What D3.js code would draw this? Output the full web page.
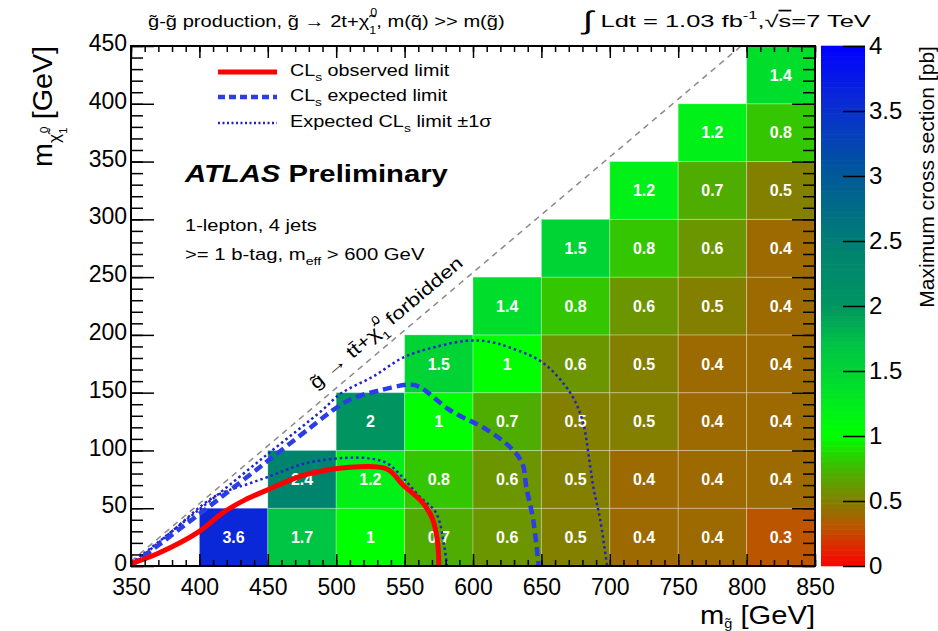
<!DOCTYPE html>
<html>
<head>
<meta charset="utf-8">
<script src="https://cdn.jsdelivr.net/npm/d3@7"></script>
<style>
  body { margin: 0; background: #fff; }
  svg { display: block; }
</style>
</head>
<body>
<script>
/* Data
***********************************************************************/
// lower edges of the gluino mass bins [GeV]
var gluinoBins = [400, 450, 500, 550, 600, 650, 700, 750, 800];
// lower edges of the neutralino mass bins [GeV]
var lspBins = [0, 50, 100, 150, 200, 250, 300, 350, 400];

// maximum cross section [pb], one row per neutralino bin, one entry per gluino bin
var xsec0   = [3.6, 1.7, 1.0, 0.7, 0.6, 0.5, 0.4, 0.4, 0.3];
var xsec50  = [null, 2.4, 1.2, 0.8, 0.6, 0.5, 0.4, 0.4, 0.4];
var xsec100 = [null, null, 2.0, 1.0, 0.7, 0.5, 0.5, 0.4, 0.4];
var xsec150 = [null, null, null, 1.5, 1.0, 0.6, 0.5, 0.4, 0.4];
var xsec200 = [null, null, null, null, 1.4, 0.8, 0.6, 0.5, 0.4];
var xsec250 = [null, null, null, null, null, 1.5, 0.8, 0.6, 0.4];
var xsec300 = [null, null, null, null, null, null, 1.2, 0.7, 0.5];
var xsec350 = [null, null, null, null, null, null, null, 1.2, 0.8];
var xsec400 = [null, null, null, null, null, null, null, null, 1.4];
var xsecRows = [xsec0, xsec50, xsec100, xsec150, xsec200, xsec250, xsec300, xsec350, xsec400];

// exclusion contours [m_gluino, m_neutralino]
var observed = [[350,2],[370,11],[400,30],[417,46],[433,57],[450,66],[472,77],[487,81.5],
	[506,85],[537,84],[549,70],[563,55],[570,42],[574,22],[575,0]];
var expected = [[351,1],[400,45],[450,91],[490,128],[499,136],[512,145],[532,152],[554,157],
	[561,155],[583,135],[610,118],[627,103],[636,89],[639,68],[644,40],[648,0]];
var sigmaUp = [[350,2],[400,49],[450,97],[490,135],[503,149],[527,164],[550,181],[574,190],
	[596,195],[612,194],[627,189],[651,176],[671,150],[680,126],[685,92],[688,68],[693,40],[698,0]];
var sigmaDown = [[352,2],[380,30],[411,60],[438,72],[450,77],[478,89],[506,93.5],[525,93],
	[537,89],[546,80],[561,60],[573,46],[579,17],[581,0]];

// kinematic limit m_gluino = 2 m_top + m_neutralino
var twoMtop = 346;

// tick labels
var xTicks = [350, 400, 450, 500, 550, 600, 650, 700, 750, 800, 850];
var yTicks = [0, 50, 100, 150, 200, 250, 300, 350, 400, 450];
var zTicks = [0, 0.5, 1, 1.5, 2, 2.5, 3, 3.5, 4];


/* Setup
***********************************************************************/
var svgW = 938;
var svgH = 631;
var fontfam = "'Liberation Sans', Arial, Helvetica, sans-serif";

var svg = d3.select("body").append("svg")
	.attr("width", svgW)
	.attr("height", svgH)
	.attr("font-family", fontfam);

svg.append("rect").attr("width", svgW).attr("height", svgH).attr("fill", "#fff");

var x = d3.scaleLinear().domain([350, 850]).range([131, 815]);
var y = d3.scaleLinear().domain([0, 450]).range([566, 46]);
var z = d3.scaleLinear().domain([0, 4]).range([566, 46]);

var colour = d3.scaleLinear()
	.domain([0, 0.3, 0.4, 0.5, 0.6, 0.7, 0.8, 1.0, 1.2, 1.4, 1.5, 1.7, 2.0, 2.4, 3.0, 3.6, 4.0])
	.range(["#ff0000", "#bb5500", "#9c6a00", "#838000", "#6b9600", "#4fac00", "#34c600",
		"#00ff00", "#00f018", "#00de2c", "#00d434", "#00c444", "#009560", "#00846e",
		"#005a98", "#0a28d8", "#0000ff"]);

svg.append("clipPath").attr("id", "plotclip")
	.append("rect")
	.attr("x", x(350)).attr("y", y(450))
	.attr("width", x(850) - x(350)).attr("height", y(0) - y(450));


/* Cells
***********************************************************************/
var cells = [];
xsecRows.forEach(function(row, j) {
	row.forEach(function(v, i) {
		if (v !== null) cells.push({ mg: gluinoBins[i], ml: lspBins[j], v: v });
	});
});

var cellGroup = svg.append("g").attr("id", "cells");
cellGroup.selectAll("rect").data(cells).enter().append("rect")
	.attr("x", function(d) { return x(d.mg); })
	.attr("y", function(d) { return y(d.ml + 50); })
	.attr("width", function(d) { return x(d.mg + 50) - x(d.mg); })
	.attr("height", function(d) { return y(d.ml) - y(d.ml + 50); })
	.attr("fill", function(d) { return colour(d.v); })
	.attr("stroke", "rgba(255,255,255,0.28)")
	.attr("stroke-width", 1);

var fmt = d3.format(".1~f");
cellGroup.selectAll("text").data(cells).enter().append("text")
	.attr("x", function(d) { return x(d.mg + 25); })
	.attr("y", function(d) { return y(d.ml + 25); })
	.attr("dy", "0.36em")
	.attr("text-anchor", "middle")
	.attr("font-size", 16)
	.attr("font-weight", "bold")
	.attr("fill", "#fff")
	.text(function(d) { return fmt(d.v); });


/* Curves
***********************************************************************/
var curveGroup = svg.append("g").attr("clip-path", "url(#plotclip)");

// kinematic limit
curveGroup.append("line")
	.attr("x1", x(350)).attr("y1", y(350 - twoMtop))
	.attr("x2", x(450 + twoMtop)).attr("y2", y(450))
	.attr("stroke", "#8a8a8a")
	.attr("stroke-width", 1.5)
	.attr("stroke-dasharray", "6,5");

var line = d3.line()
	.x(function(d) { return x(d[0]); })
	.y(function(d) { return y(d[1]); })
	.curve(d3.curveCatmullRom.alpha(0.5));

function drawCurve(pts, stroke, width, dash) {
	curveGroup.append("path")
		.attr("d", line(pts))
		.attr("fill", "none")
		.attr("stroke", stroke)
		.attr("stroke-width", width)
		.attr("stroke-dasharray", dash)
		.attr("stroke-linejoin", "round");
}

drawCurve(sigmaUp, "#1f23c8", 2.5, "2.5,3");
drawCurve(sigmaDown, "#1f23c8", 2.5, "2.5,3");
drawCurve(expected, "#2b3ee6", 4.5, "9,5");
drawCurve(observed, "#ff0000", 5, null);


/* Frame and axes
***********************************************************************/
function styleAxis(g, size) {
	g.select(".domain").remove();
	g.selectAll("line").attr("stroke", "#000").attr("stroke-width", 1.5);
	g.selectAll("text").attr("font-size", size).attr("fill", "#000").attr("font-family", fontfam);
}

var minorX = d3.range(350, 851, 10);
var minorY = d3.range(0, 451, 10);

// minor ticks
svg.append("g").attr("transform", "translate(0," + y(0) + ")")
	.call(d3.axisBottom(x).tickValues(minorX).tickSize(-6).tickFormat(""))
	.call(styleAxis, 0);
svg.append("g").attr("transform", "translate(0," + y(450) + ")")
	.call(d3.axisTop(x).tickValues(minorX).tickSize(-6).tickFormat(""))
	.call(styleAxis, 0);
svg.append("g").attr("transform", "translate(" + x(350) + ",0)")
	.call(d3.axisLeft(y).tickValues(minorY).tickSize(-12).tickFormat(""))
	.call(styleAxis, 0);
svg.append("g").attr("transform", "translate(" + x(850) + ",0)")
	.call(d3.axisRight(y).tickValues(minorY).tickSize(-12).tickFormat(""))
	.call(styleAxis, 0);

// major ticks with labels
svg.append("g").attr("transform", "translate(0," + y(0) + ")")
	.call(d3.axisBottom(x).tickValues(xTicks).tickSize(-12).tickPadding(13).tickFormat(d3.format("d")))
	.call(styleAxis, 23);
svg.append("g").attr("transform", "translate(0," + y(450) + ")")
	.call(d3.axisTop(x).tickValues(xTicks).tickSize(-12).tickFormat(""))
	.call(styleAxis, 0);
svg.append("g").attr("transform", "translate(" + x(350) + ",0)")
	.call(d3.axisLeft(y).tickValues(yTicks).tickSize(-23).tickPadding(4).tickFormat(d3.format("d")))
	.call(styleAxis, 23)
	.call(function(g) { g.selectAll("text").attr("dy", "0.2em"); });
svg.append("g").attr("transform", "translate(" + x(850) + ",0)")
	.call(d3.axisRight(y).tickValues(yTicks).tickSize(-23).tickFormat(""))
	.call(styleAxis, 0);

svg.append("rect")
	.attr("x", x(350)).attr("y", y(450))
	.attr("width", x(850) - x(350)).attr("height", y(0) - y(450))
	.attr("fill", "none").attr("stroke", "#000").attr("stroke-width", 2);


/* Colour bar
***********************************************************************/
var zbarX0 = 821, zbarX1 = 865;
var zsteps = d3.range(0, 4, 0.04);
svg.append("g").selectAll("rect").data(zsteps).enter().append("rect")
	.attr("x", zbarX0)
	.attr("y", function(d) { return z(d + 0.04) - 0.3; })
	.attr("width", zbarX1 - zbarX0)
	.attr("height", function(d) { return z(d) - z(d + 0.04) + 0.6; })
	.attr("fill", function(d) { return colour(d + 0.02); });

svg.append("g").attr("transform", "translate(" + zbarX1 + ",0)")
	.call(d3.axisRight(z).tickValues(zTicks).tickSize(-22).tickPadding(4).tickFormat(d3.format("~g")))
	.call(styleAxis, 24);


/* Text helpers
***********************************************************************/
// runs: {t, off (em, +down), size (fraction of fs), dx (em)}
function richText(px, py, rot, anchor, fs, runs, fitWidth, extra) {
	var g = svg.append("g").attr("transform", "translate(" + px + "," + py + ") rotate(" + rot + ")");
	var text = g.append("text")
		.attr("text-anchor", anchor)
		.attr("font-size", fs)
		.attr("fill", "#000");
	if (extra) extra(text);
	var cur = 0;
	runs.forEach(function(r) {
		var off = (r.off || 0) * fs;
		var ts = text.append("tspan").text(r.t).attr("dy", off - cur);
		if (r.size) ts.attr("font-size", r.size * fs);
		if (r.dx) ts.attr("dx", r.dx * fs);
		if (r.weight) ts.attr("font-weight", r.weight);
		if (r.style) ts.attr("font-style", r.style);
		if (r.deco) ts.attr("text-decoration", r.deco);
		cur = off;
	});
	if (fitWidth) {
		var bw = text.node().getBBox().width;
		if (bw > 0) text.attr("transform", "scale(" + (fitWidth / bw) + ",1)");
	}
	return text;
}

var gt = "g\u0303", chit = "\u03C7\u0303";

// top captions
richText(148, 27, 0, "start", 17, [
	{ t: gt + "-" + gt + "  production, " + gt + " \u2192 2t+" + chit },
	{ t: "0", off: -0.62, size: 0.62, dx: 0.05 },
	{ t: "1", off: 0.42, size: 0.62, dx: -0.39 },
	{ t: ", m(q\u0303) >> m(" + gt + ")", off: 0 }
], 357);

richText(583, 27, 0, "start", 17, [
	{ t: "\u222B", size: 1.5, off: 0.1 },
	{ t: " Ldt = 1.03 fb", off: 0 },
	{ t: "-1", off: -0.45, size: 0.65 },
	{ t: ",\u221A", off: 0 },
	{ t: "s", deco: "overline" },
	{ t: "=7 TeV" }
], 292);

// legend
var legX0 = 218, legX1 = 277;
var legend = [
	{ y: 72, stroke: "#ff0000", w: 5, dash: null,
		runs: [{ t: "CL" }, { t: "s", off: 0.3, size: 0.7 }, { t: " observed limit", off: 0 }], tw: 160, base: 76 },
	{ y: 97, stroke: "#2b3ee6", w: 4.5, dash: "7,4",
		runs: [{ t: "CL" }, { t: "s", off: 0.3, size: 0.7 }, { t: " expected limit", off: 0 }], tw: 158, base: 101 },
	{ y: 123, stroke: "#1f23c8", w: 2.5, dash: "2,2.5",
		runs: [{ t: "Expected CL" }, { t: "s", off: 0.3, size: 0.7 }, { t: " limit \u00B11\u03C3", off: 0 }], tw: 202, base: 127 }
];
legend.forEach(function(l) {
	svg.append("line")
		.attr("x1", legX0).attr("x2", legX1)
		.attr("y1", l.y).attr("y2", l.y)
		.attr("stroke", l.stroke).attr("stroke-width", l.w)
		.attr("stroke-dasharray", l.dash);
	richText(290, l.base, 0, "start", 16, l.runs, l.tw);
});

// ATLAS label
richText(185, 182, 0, "start", 24, [
	{ t: "ATLAS", weight: "bold", style: "italic" },
	{ t: " Preliminary", weight: "bold" }
], 265);
richText(185, 231, 0, "start", 16, [{ t: "1-lepton, 4 jets" }], 132);
richText(185, 260, 0, "start", 16, [
	{ t: ">= 1 b-tag, m" },
	{ t: "eff", off: 0.3, size: 0.7 },
	{ t: " > 600 GeV", off: 0 }
], 240);

// kinematic limit label
richText(316, 390, -40.2, "start", 18, [
	{ t: gt + " \u2192 tt\u0304+" + chit },
	{ t: "0", off: -0.62, size: 0.62, dx: 0.05 },
	{ t: "1", off: 0.42, size: 0.62, dx: -0.39 },
	{ t: " forbidden", off: 0 }
], 194);

// axis titles
richText(815, 624, 0, "end", 26, [
	{ t: "m" },
	{ t: gt, off: 0.15, size: 0.5 },
	{ t: " [GeV]", off: 0 }
], 115);

richText(52, 46, -90, "end", 28, [
	{ t: "m" },
	{ t: chit, off: 0.3, size: 0.6 },
	{ t: "0", off: -0.15, size: 0.42, dx: 0.03 },
	{ t: "1", off: 0.55, size: 0.42, dx: -0.26 },
	{ t: " [GeV]", off: 0 }
], 121);

richText(934, 46, -90, "end", 20, [{ t: "Maximum cross section [pb]" }], 262);
</script>
</body>
</html>
